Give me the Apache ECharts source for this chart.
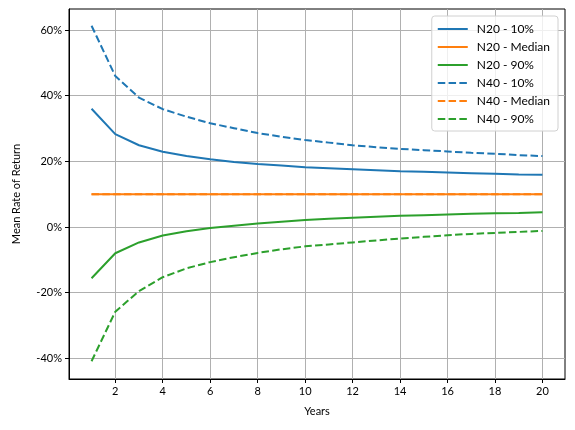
<!DOCTYPE html>
<html>
<head>
<meta charset="utf-8">
<script src="https://cdn.jsdelivr.net/npm/echarts@6/dist/echarts.min.js"></script>
<style>
  html, body { margin: 0; padding: 0; background: #fff; }
  #chart { width: 575px; height: 430px; }
</style>
</head>
<body>
<div id="chart"></div>
<script>
const years = [1, 2, 3, 4, 5, 6, 7, 8, 9, 10, 11, 12, 13, 14, 15, 16, 17, 18, 19, 20];

const n20Low = [36.0, 28.3, 24.9, 22.9, 21.6, 20.6, 19.8, 19.2, 18.7, 18.2, 17.9, 17.6, 17.3, 17.0, 16.8, 16.6, 16.4, 16.2, 16.0, 15.9];
const n20Median = [10, 10, 10, 10, 10, 10, 10, 10, 10, 10, 10, 10, 10, 10, 10, 10, 10, 10, 10, 10];
const n20High = [-15.6, -8.0, -4.7, -2.6, -1.3, -0.3, 0.4, 1.1, 1.6, 2.1, 2.5, 2.8, 3.1, 3.4, 3.6, 3.8, 4.0, 4.2, 4.3, 4.5];
const n40Low = [61.3, 46.0, 39.4, 35.9, 33.6, 31.6, 30.1, 28.6, 27.5, 26.5, 25.7, 24.9, 24.3, 23.8, 23.4, 23.0, 22.6, 22.3, 21.9, 21.6];
const n40Median = [10, 10, 10, 10, 10, 10, 10, 10, 10, 10, 10, 10, 10, 10, 10, 10, 10, 10, 10, 10];
const n40High = [-40.9, -25.8, -19.5, -15.3, -12.6, -10.7, -9.2, -7.9, -6.8, -5.9, -5.3, -4.7, -4.1, -3.5, -3.0, -2.5, -2.1, -1.8, -1.5, -1.2];

const xTicks = [2, 4, 6, 8, 10, 12, 14, 16, 18, 20];
const yTicks = [-40, -20, 0, 20, 40, 60];

const font = 'Lato, "DejaVu Sans", sans-serif';
const blue = '#1f77b4', orange = '#ff7f0e', green = '#2ca02c';

const makeSeries = (name, values, color, dashed) => ({
  name,
  type: 'line',
  data: years.map((y, i) => [y, values[i]]),
  showSymbol: false,
  symbol: 'none',
  animation: false,
  lineStyle: { color, width: 2, type: dashed ? [7.5, 3.3] : 'solid' },
  itemStyle: { color }
});

const chart = echarts.init(document.getElementById('chart'));
chart.setOption({
  animation: false,
  textStyle: { fontFamily: font },
  grid: {
    left: 69, right: 10, top: 9, bottom: 51,
    show: true, borderColor: '#000', borderWidth: 1
  },
  legend: {
    orient: 'vertical',
    right: 17,
    top: 16,
    itemWidth: 30,
    itemHeight: 10,
    itemGap: 6,
    padding: [7, 8, 6, 5],
    backgroundColor: 'rgba(255,255,255,0.8)',
    borderColor: '#d0d0d0',
    borderWidth: 1,
    borderRadius: 3,
    itemStyle: { opacity: 0 },
    textStyle: { fontFamily: font, fontSize: 12, color: '#000', padding: [0, 0, 0, 4] },
    data: ['N20 - 10%', 'N20 - Median', 'N20 - 90%', 'N40 - 10%', 'N40 - Median', 'N40 - 90%']
  },
  xAxis: {
    type: 'value',
    min: 0.05,
    max: 20.95,
    name: 'Years',
    nameLocation: 'middle',
    nameGap: 27,
    nameTextStyle: { fontFamily: font, fontSize: 11, color: '#000' },
    axisLine: { show: true, onZero: false, lineStyle: { color: '#000' } },
    axisTick: { show: true, inside: false, length: 4, lineStyle: { color: '#000' }, customValues: xTicks },
    axisLabel: { color: '#000', fontSize: 11, margin: 7, customValues: xTicks, fontFamily: font },
    splitLine: { show: true, lineStyle: { color: '#b0b0b0', width: 1 } }
  },
  yAxis: {
    type: 'value',
    min: -46.3,
    max: 66.4,
    name: 'Mean Rate of Return',
    nameLocation: 'middle',
    nameGap: 47,
    nameTextStyle: { fontFamily: font, fontSize: 11, color: '#000' },
    axisLine: { show: true, onZero: false, lineStyle: { color: '#000' } },
    axisTick: { show: true, inside: false, length: 4, lineStyle: { color: '#000' }, customValues: yTicks },
    axisLabel: { color: '#000', fontSize: 11, margin: 7, customValues: yTicks, formatter: '{value}%', fontFamily: font },
    splitLine: { show: true, lineStyle: { color: '#b0b0b0', width: 1 } }
  },
  series: [
    makeSeries('N20 - 10%', n20Low, blue, false),
    makeSeries('N20 - Median', n20Median, orange, false),
    makeSeries('N20 - 90%', n20High, green, false),
    makeSeries('N40 - 10%', n40Low, blue, true),
    makeSeries('N40 - Median', n40Median, orange, true),
    makeSeries('N40 - 90%', n40High, green, true)
  ]
});
</script>
</body>
</html>
